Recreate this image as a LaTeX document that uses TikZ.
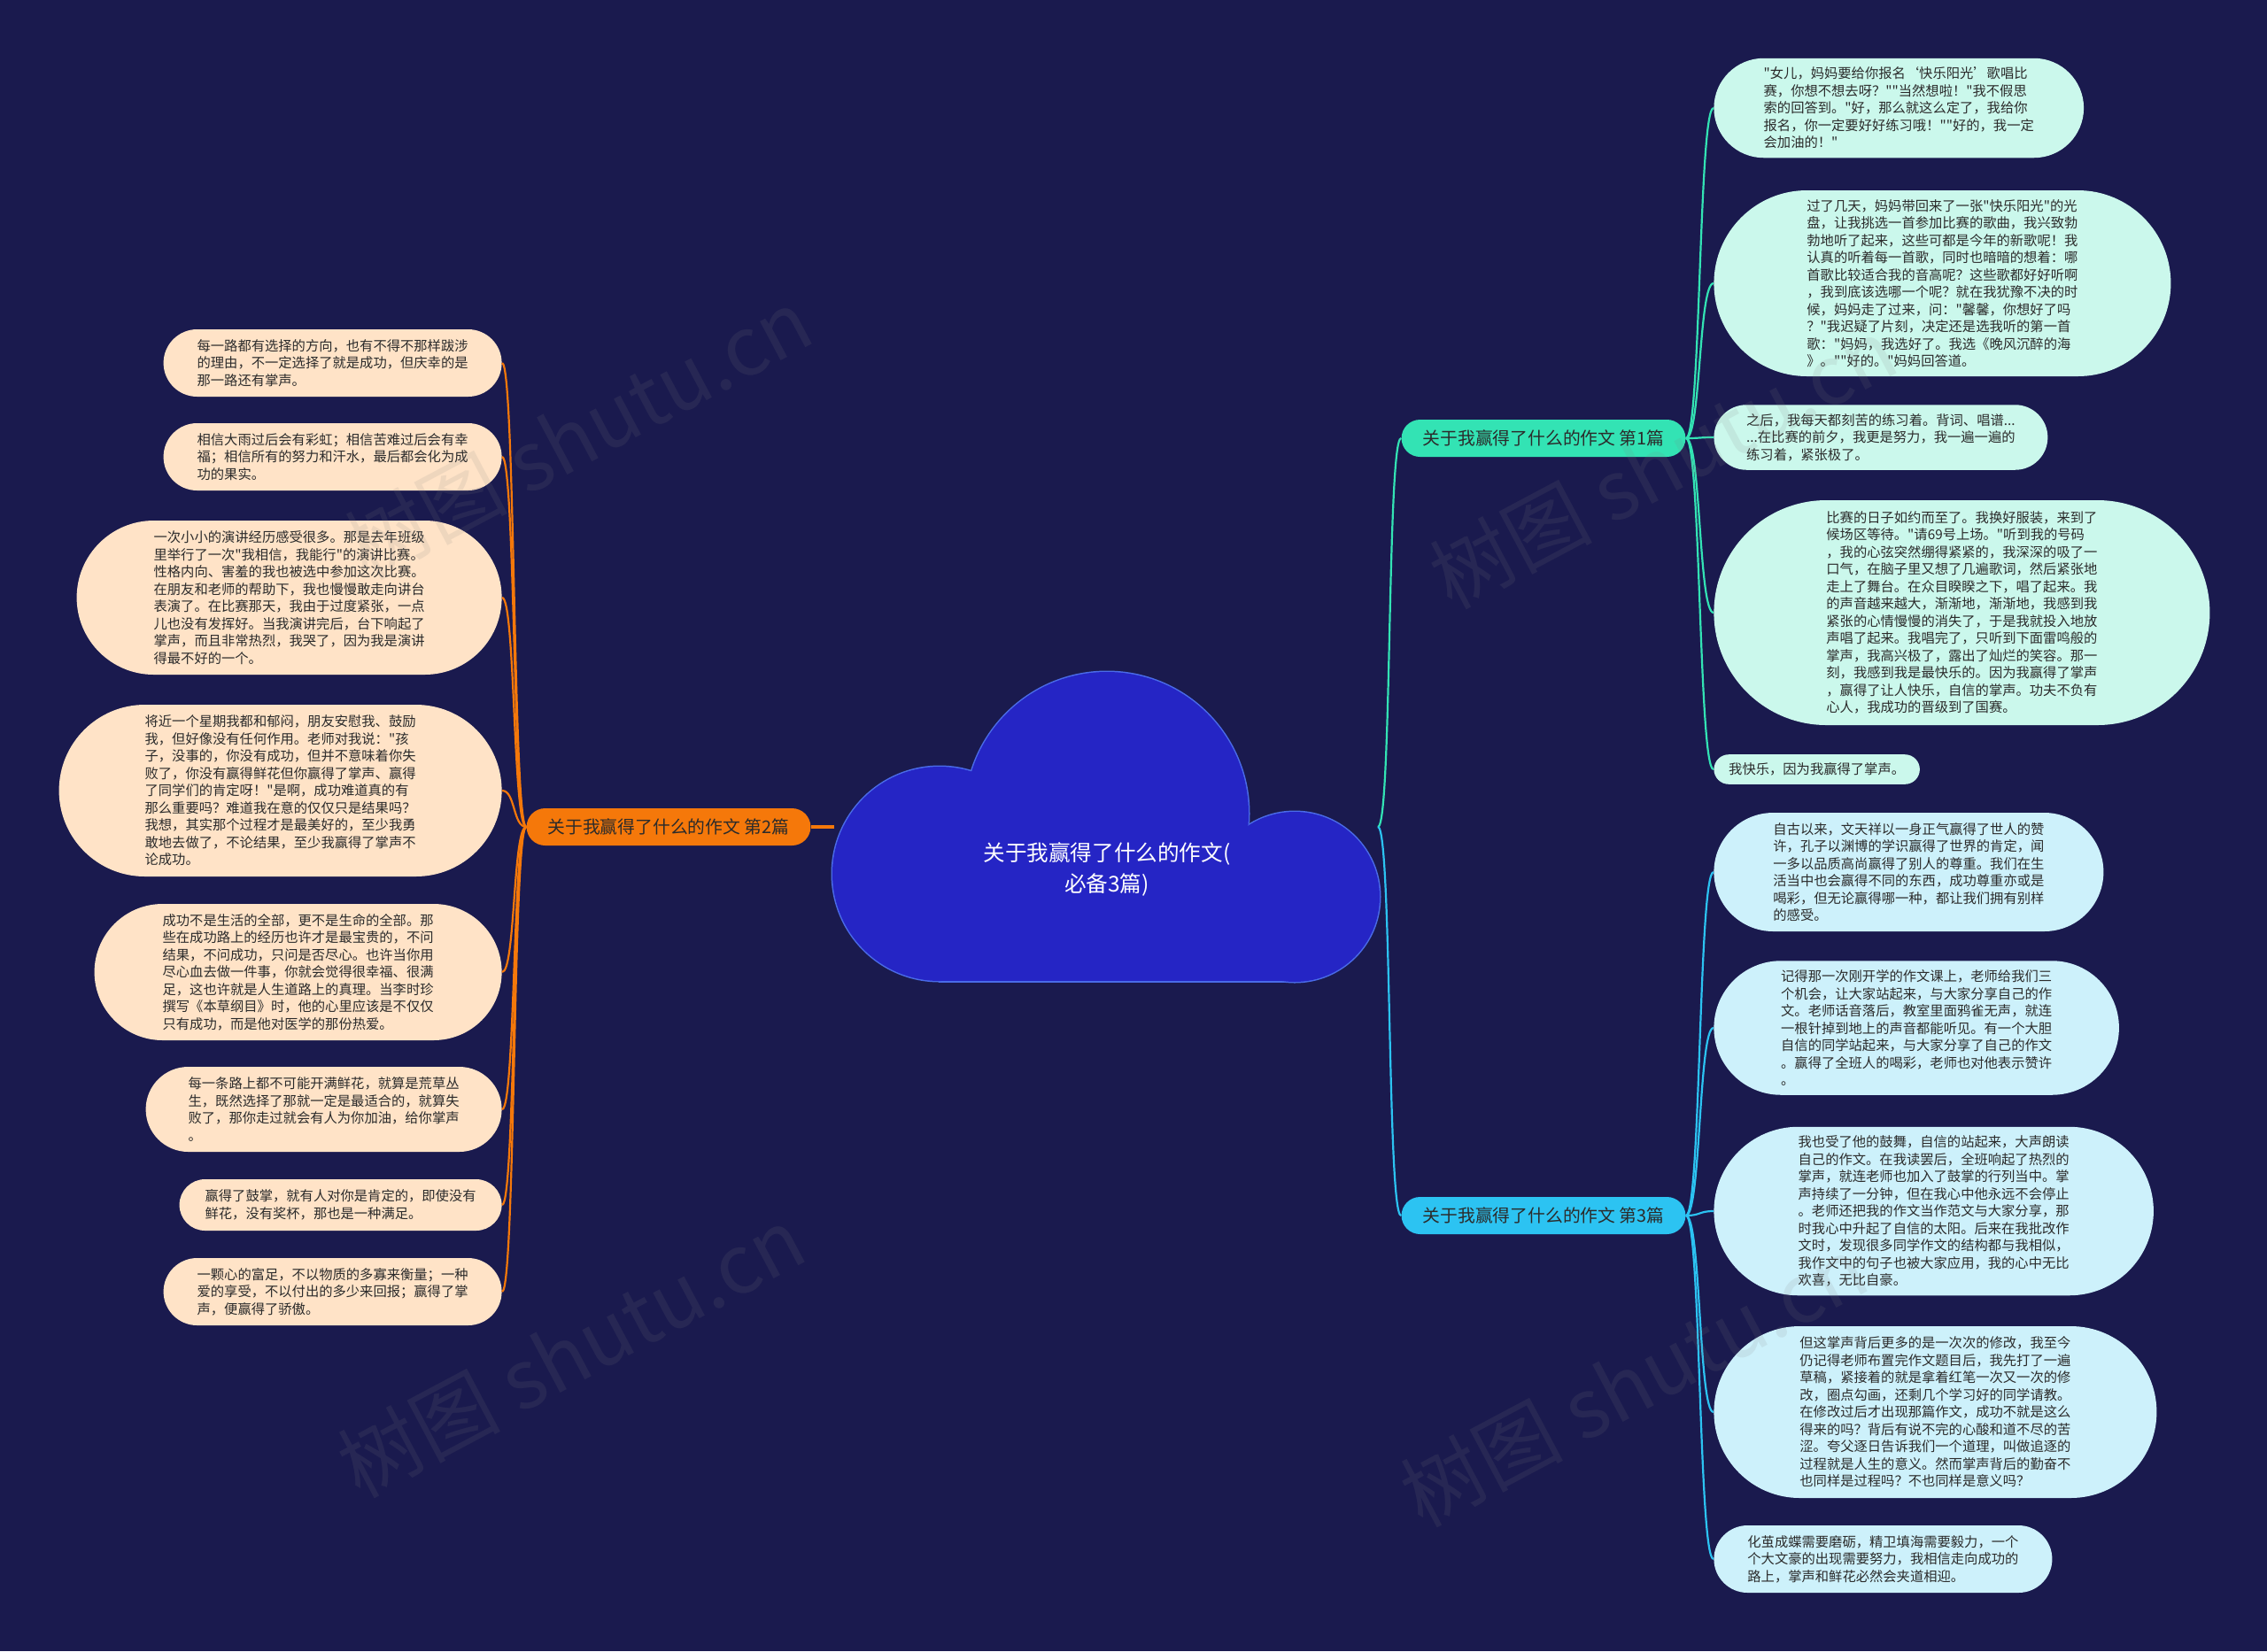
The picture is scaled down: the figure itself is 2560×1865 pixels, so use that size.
\documentclass[tikz,border=0pt]{standalone}
\usepackage{fontspec}
\newfontfamily\cjkf{Noto Sans CJK SC}
\definecolor{bg}{HTML}{1A1A4E}
\definecolor{cloudfill}{HTML}{2525C5}
\definecolor{cloudedge}{HTML}{4A6BE8}
\definecolor{gmain}{HTML}{33E3B4}
\definecolor{bmain}{HTML}{2CC3F2}
\definecolor{omain}{HTML}{F5780A}
\definecolor{gleaf}{HTML}{CBF8EC}
\definecolor{bleaf}{HTML}{CDF1FB}
\definecolor{oleaf}{HTML}{FFE3C7}
\definecolor{txt}{HTML}{2B2B2B}
\newcommand\lffont{\cjkf\fontsize{7.65pt}{9.75pt}\selectfont}
\newcommand\brfont{\cjkf\fontsize{9.9pt}{11.5pt}\selectfont}
\newcommand\ctfont{\cjkf\fontsize{12.3pt}{17.5pt}\selectfont}
\tikzset{
  leaf/.style={rectangle, inner ysep=0pt, inner xsep=#1, minimum height=2*#1, rounded corners=#1, align=left, font=\lffont, text=txt},
  leafG/.style={leaf=#1, fill=gleaf},
  leafB/.style={leaf=#1, fill=bleaf},
  leafO/.style={leaf=#1, fill=oleaf},
  branch/.style={rectangle, rounded corners=10.5pt, inner xsep=12pt, inner ysep=0pt, minimum height=21pt, font=\brfont, text=txt},
  gline/.style={draw=gmain, line width=1.1pt},
  bline/.style={draw=bmain, line width=1.1pt},
  oline/.style={draw=omain, line width=1.1pt},
  cloudpart/.style={fill=cloudfill},
  cloudrim/.style={draw=cloudedge, line width=1.5pt},
  wmark/.style={text=gray, opacity=0.13, font=\cjkf\fontsize{46pt}{50pt}\selectfont, rotate=28}
}
\begin{document}
\begin{tikzpicture}[x=0.5pt,y=-0.5pt]
\fill[bg] (0,0) rectangle (2560,1865);
\useasboundingbox (0,0) rectangle (2560,1865);

% cloud
\path[cloudrim] (1250,919) circle[radius=160];
\path[cloudrim] (1061,987) circle[radius=121];
\path[cloudrim] (1462,1013) circle[radius=96];
\path[cloudrim] (1061,987) rectangle (1462,1108);
\path[cloudpart] (1250,919) circle[radius=160];
\path[cloudpart] (1061,987) circle[radius=121];
\path[cloudpart] (1462,1013) circle[radius=96];
\path[cloudpart] (1061,987) rectangle (1462,1108);
\node[text=white, font=\ctfont, align=center] (center) at (1250,982) {关于我赢得了什么的作文(\\必备3篇)};
\coordinate (cL) at (942,934);
\coordinate (cR) at (1556,934);

% branches
\node[branch, fill=gmain] (b1) at (1743,495) {关于我赢得了什么的作文 第1篇};
\node[branch, fill=omain] (b2) at (755,934) {关于我赢得了什么的作文 第2篇};
\node[branch, fill=bmain] (b3) at (1743,1373) {关于我赢得了什么的作文 第3篇};

\draw[gline] (cR) .. controls +(16,0) and +(-16,0) .. (b1.west);
\draw[bline] (cR) .. controls +(16,0) and +(-16,0) .. (b3.west);
\draw[oline, line width=2pt] (cL) -- (b2.east);

% right leaves, branch 1
\node[leafG=28.125pt, anchor=west] (r1) at (1935,122) {"女儿，妈妈要给你报名‘快乐阳光’歌唱比\\赛，你想不想去呀？""当然想啦！"我不假思\\索的回答到。"好，那么就这么定了，我给你\\报名，你一定要好好练习哦！""好的，我一定\\会加油的！"};
\node[leafG=52.5pt, anchor=west] (r2) at (1935,320) {过了几天，妈妈带回来了一张"快乐阳光"的光\\盘，让我挑选一首参加比赛的歌曲，我兴致勃\\勃地听了起来，这些可都是今年的新歌呢！我\\认真的听着每一首歌，同时也暗暗的想着：哪\\首歌比较适合我的音高呢？这些歌都好好听啊\\，我到底该选哪一个呢？就在我犹豫不决的时\\候，妈妈走了过来，问："馨馨，你想好了吗\\？"我迟疑了片刻，决定还是选我听的第一首\\歌："妈妈，我选好了。我选《晚风沉醉的海\\》。""好的。"妈妈回答道。};
\node[leafG=18.375pt, anchor=west] (r3) at (1935,494) {之后，我每天都刻苦的练习着。背词、唱谱...\\...在比赛的前夕，我更是努力，我一遍一遍的\\练习着，紧张极了。};
\node[leafG=63.5pt, anchor=west] (r4) at (1935,692) {比赛的日子如约而至了。我换好服装，来到了\\候场区等待。"请69号上场。"听到我的号码\\，我的心弦突然绷得紧紧的，我深深的吸了一\\口气，在脑子里又想了几遍歌词，然后紧张地\\走上了舞台。在众目睽睽之下，唱了起来。我\\的声音越来越大，渐渐地，渐渐地，我感到我\\紧张的心情慢慢的消失了，于是我就投入地放\\声唱了起来。我唱完了，只听到下面雷鸣般的\\掌声，我高兴极了，露出了灿烂的笑容。那一\\刻，我感到我是最快乐的。因为我赢得了掌声\\，赢得了让人快乐，自信的掌声。功夫不负有\\心人，我成功的晋级到了国赛。};
\node[leafG=8.4pt, anchor=west] (r5) at (1935,869) {我快乐，因为我赢得了掌声。};

\foreach \n in {r1,r2,r3,r4,r5}
  \draw[gline] (b1.east) .. controls +(17,0) and +(-17,0) .. (\n.west);

% right leaves, branch 3
\node[leafB=33.5pt, anchor=west] (r6) at (1935,985) {自古以来，文天祥以一身正气赢得了世人的赞\\许，孔子以渊博的学识赢得了世界的肯定，闻\\一多以品质高尚赢得了别人的尊重。我们在生\\活当中也会赢得不同的东西，成功尊重亦或是\\喝彩，但无论赢得哪一种，都让我们拥有别样\\的感受。};
\node[leafB=37.875pt, anchor=west] (r7) at (1935,1161) {记得那一次刚开学的作文课上，老师给我们三\\个机会，让大家站起来，与大家分享自己的作\\文。老师话音落后，教室里面鸦雀无声，就连\\一根针掉到地上的声音都能听见。有一个大胆\\自信的同学站起来，与大家分享了自己的作文\\。赢得了全班人的喝彩，老师也对他表示赞许\\。};
\node[leafB=47.625pt, anchor=west] (r8) at (1935,1368) {我也受了他的鼓舞，自信的站起来，大声朗读\\自己的作文。在我读罢后，全班响起了热烈的\\掌声，就连老师也加入了鼓掌的行列当中。掌\\声持续了一分钟，但在我心中他永远不会停止\\。老师还把我的作文当作范文与大家分享，那\\时我心中升起了自信的太阳。后来在我批改作\\文时，发现很多同学作文的结构都与我相似，\\我作文中的句子也被大家应用，我的心中无比\\欢喜，无比自豪。};
\node[leafB=48.5pt, anchor=west] (r9) at (1935,1595) {但这掌声背后更多的是一次次的修改，我至今\\仍记得老师布置完作文题目后，我先打了一遍\\草稿，紧接着的就是拿着红笔一次又一次的修\\改，圈点勾画，还剩几个学习好的同学请教。\\在修改过后才出现那篇作文，成功不就是这么\\得来的吗？背后有说不完的心酸和道不尽的苦\\涩。夸父逐日告诉我们一个道理，叫做追逐的\\过程就是人生的意义。然而掌声背后的勤奋不\\也同样是过程吗？不也同样是意义吗？};
\node[leafB=19pt, anchor=west] (r10) at (1935,1761) {化茧成蝶需要磨砺，精卫填海需要毅力，一个\\个大文豪的出现需要努力，我相信走向成功的\\路上，掌声和鲜花必然会夹道相迎。};

\foreach \n in {r6,r7,r8,r9,r10}
  \draw[bline] (b3.east) .. controls +(17,0) and +(-17,0) .. (\n.west);

% left leaves, branch 2
\node[leafO=19pt, anchor=east] (l1) at (567,410) {每一路都有选择的方向，也有不得不那样跋涉\\的理由，不一定选择了就是成功，但庆幸的是\\那一路还有掌声。};
\node[leafO=19pt, anchor=east] (l2) at (567,516) {相信大雨过后会有彩虹；相信苦难过后会有幸\\福；相信所有的努力和汗水，最后都会化为成\\功的果实。};
\node[leafO=43.5pt, anchor=east] (l3) at (567,675) {一次小小的演讲经历感受很多。那是去年班级\\里举行了一次"我相信，我能行"的演讲比赛。\\性格内向、害羞的我也被选中参加这次比赛。\\在朋友和老师的帮助下，我也慢慢敢走向讲台\\表演了。在比赛那天，我由于过度紧张，一点\\儿也没有发挥好。当我演讲完后，台下响起了\\掌声，而且非常热烈，我哭了，因为我是演讲\\得最不好的一个。};
\node[leafO=48.5pt, anchor=east] (l4) at (567,893) {将近一个星期我都和郁闷，朋友安慰我、鼓励\\我，但好像没有任何作用。老师对我说："孩\\子，没事的，你没有成功，但并不意味着你失\\败了，你没有赢得鲜花但你赢得了掌声、赢得\\了同学们的肯定呀！"是啊，成功难道真的有\\那么重要吗？难道我在意的仅仅只是结果吗？\\我想，其实那个过程才是最美好的，至少我勇\\敢地去做了，不论结果，至少我赢得了掌声不\\论成功。};
\node[leafO=38.5pt, anchor=east] (l5) at (567,1098) {成功不是生活的全部，更不是生命的全部。那\\些在成功路上的经历也许才是最宝贵的，不问\\结果，不问成功，只问是否尽心。也许当你用\\尽心血去做一件事，你就会觉得很幸福、很满\\足，这也许就是人生道路上的真理。当李时珍\\撰写《本草纲目》时，他的心里应该是不仅仅\\只有成功，而是他对医学的那份热爱。};
\node[leafO=24pt, anchor=east] (l6) at (567,1253) {每一条路上都不可能开满鲜花，就算是荒草丛\\生，既然选择了那就一定是最适合的，就算失\\败了，那你走过就会有人为你加油，给你掌声\\。};
\node[leafO=14.5pt, anchor=east] (l7) at (567,1361) {赢得了鼓掌，就有人对你是肯定的，即使没有\\鲜花，没有奖杯，那也是一种满足。};
\node[leafO=19pt, anchor=east] (l8) at (567,1459) {一颗心的富足，不以物质的多寡来衡量；一种\\爱的享受，不以付出的多少来回报；赢得了掌\\声，便赢得了骄傲。};

\foreach \n in {l1,l2,l3,l4,l5,l6,l7,l8}
  \draw[oline] (b2.west) .. controls +(-15,0) and +(15,0) .. (\n.east);

% watermarks
\node[wmark] (w1) at (653,490) {树图 shutu.cn};
\node[wmark] (w2) at (645,1527) {树图 shutu.cn};
\node[wmark] (w3) at (1878,523) {树图 shutu.cn};
\node[wmark] (w4) at (1845,1560) {树图 shutu.cn};
\end{tikzpicture}
\end{document}
